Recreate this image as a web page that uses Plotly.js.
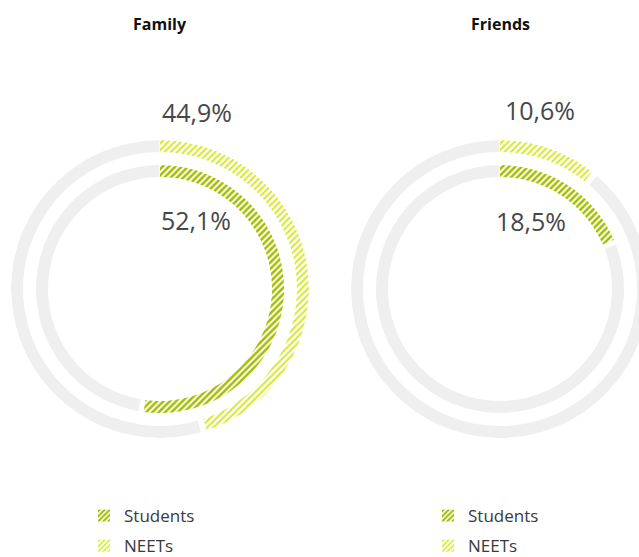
<!DOCTYPE html>
<html><head><meta charset="utf-8">
<script src="https://cdn.plot.ly/plotly-3.0.1.min.js"></script>
<style>html,body{margin:0;padding:0;overflow:hidden;background:#fff}#c{width:700px;height:620px}</style>
</head><body><div id="c"></div><script>
const panels = ['Family', 'Friends'];
const seriesNames = ['Students', 'NEETs'];
const students = [52.1, 18.5];
const neets = [44.9, 10.6];

const W = 700, H = 620;
const colStudents = '#a5bd00';
const colNeets = '#d5e81c';
const grey = '#efefef';
const centers = [[160, 289], [500, 289]];
const R = 149;
const rings = {NEETs: 137, Students: 112};
const thick = 12;
const fmt = v => v.toFixed(1).replace('.', ',') + '%';

const data = [];
const layout = {
  width: W, height: H, margin: {l: 0, r: 0, t: 0, b: 0},
  paper_bgcolor: '#fff', plot_bgcolor: '#fff',
  font: {family: 'Open Sans, sans-serif', color: '#333'},
  annotations: [], showlegend: true
};

panels.forEach((name, i) => {
  const pid = i === 0 ? 'polar' : 'polar2';
  const lid = i === 0 ? 'legend' : 'legend2';
  const [cx, cy] = centers[i];
  layout[pid] = {
    domain: {x: [(cx - R) / W, (cx + R) / W], y: [(H - cy - R) / H, (H - cy + R) / H]},
    bgcolor: 'rgba(0,0,0,0)', hole: 0,
    radialaxis: {visible: false, range: [0, R], showgrid: false},
    angularaxis: {visible: false, rotation: 90, direction: 'clockwise', showgrid: false, showline: false, showticklabels: false, ticks: ''}
  };
  const vals = {Students: students[i], NEETs: neets[i]};
  ['NEETs', 'Students'].forEach(s => {
    const v = vals[s];
    const gap = 0.6;
    data.push({
      type: 'barpolar', subplot: pid, showlegend: false, hoverinfo: 'skip',
      r: [thick], base: [rings[s]],
      theta: [(v + gap + 100) / 2 * 3.6], width: [(100 - v - gap) * 3.6 - 0.5],
      marker: {color: grey, line: {width: 0}}
    });
  });
  seriesNames.forEach(s => {
    const v = vals[s];
    const isS = s === 'Students';
    data.push({
      type: 'barpolar', subplot: pid, name: s, legend: lid, legendgroup: s + i,
      r: [thick], base: [rings[s]],
      theta: [v * 3.6 / 2], width: [v * 3.6],
      marker: {color: '#fff', line: {width: 0},
        pattern: {shape: '/', fgcolor: isS ? colStudents : colNeets, bgcolor: '#fff',
                  size: 4.5, solidity: isS ? 0.55 : 0.4, fillmode: 'replace'}}
    });
  });
  layout[lid] = {
    x: (i === 0 ? 84 : 428) / W, y: (H - 498) / H, xanchor: 'left', yanchor: 'top',
    font: {family: 'Open Sans, sans-serif', size: 17, color: '#3a3a3a'},
    bgcolor: 'rgba(0,0,0,0)', traceorder: 'grouped', tracegroupgap: 5
  };
  layout.annotations.push({
    text: '<b>' + name + '</b>', xref: 'paper', yref: 'paper',
    x: cx / W, y: (H - 24) / H, xanchor: 'center', yanchor: 'middle', showarrow: false,
    font: {family: 'Open Sans, sans-serif', size: 16, color: '#111'}
  });
});

const labelPos = [
  {NEETs: [197, 112], Students: [196, 220]},
  {NEETs: [540, 110], Students: [531, 221]}
];
panels.forEach((name, i) => {
  const vals = {Students: students[i], NEETs: neets[i]};
  seriesNames.forEach(s => {
    const [x, y] = labelPos[i][s];
    layout.annotations.push({
      text: fmt(vals[s]), xref: 'paper', yref: 'paper', x: x / W, y: (H - y) / H,
      xanchor: 'center', yanchor: 'middle',
      showarrow: false, font: {family: 'Open Sans, sans-serif', size: 25, color: '#474747'}
    });
  });
});

Plotly.newPlot('c', data, layout, {displayModeBar: false, staticPlot: true});
</script></body></html>
